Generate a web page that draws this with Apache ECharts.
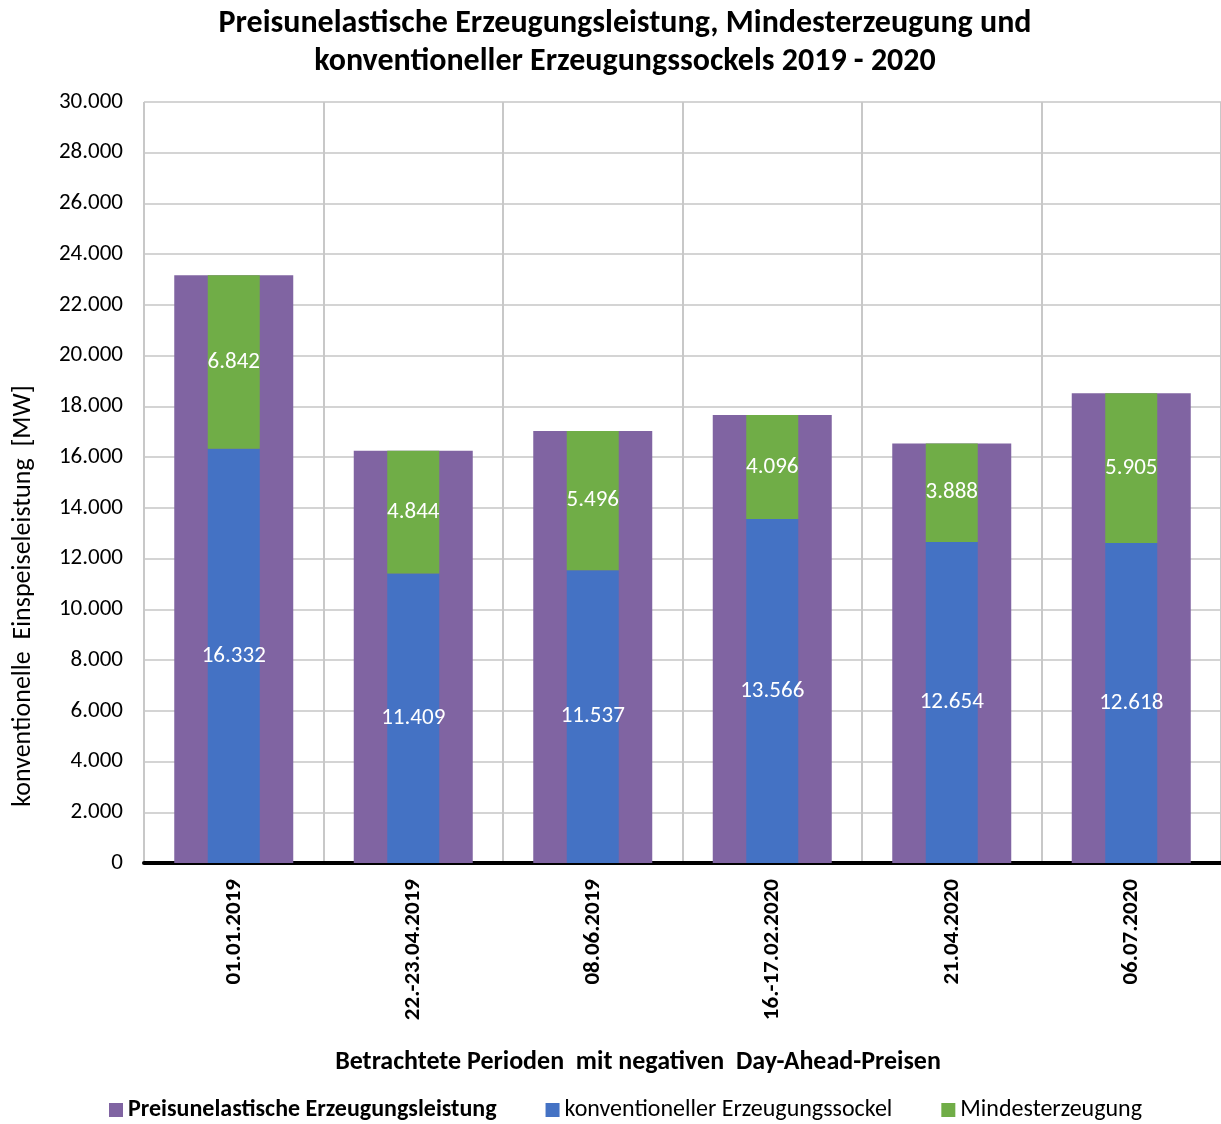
<!DOCTYPE html>
<html>
<head>
<meta charset="utf-8">
<script src="https://cdn.jsdelivr.net/npm/echarts@6/dist/echarts.min.js"></script>
<style>
  html, body { margin: 0; padding: 0; background: #fff; }
  #chart { width: 1221px; height: 1124px; }
</style>
</head>
<body>
<div id="chart"></div>
<script>
const periods = ['01.01.2019', '22.-23.04.2019', '08.06.2019', '16.-17.02.2020', '21.04.2020', '06.07.2020'];
const preisunelastisch = [23174, 16253, 17033, 17662, 16542, 18523];
const sockel = [16332, 11409, 11537, 13566, 12654, 12618];
const mindest = [6842, 4844, 5496, 4096, 3888, 5905];
const seriesNames = ['Preisunelastische Erzeugungsleistung', 'konventioneller Erzeugungssockel', 'Mindesterzeugung'];

const FONT = 'Carlito, Lato, sans-serif';
const fmt = v => String(Math.round(v)).replace(/\B(?=(\d{3})+(?!\d))/g, '.');

const chart = echarts.init(document.getElementById('chart'));
const valueLabel = {
  show: true, position: 'inside', color: '#fff',
  fontFamily: FONT, fontSize: 23,
  formatter: p => fmt(p.value)
};

chart.setOption({
  animation: false,
  backgroundColor: '#fff',
  textStyle: { fontFamily: FONT },
  graphic: [
    { type: 'text', x: 625, y: 5, style: {
        text: 'Preisunelastische Erzeugungsleistung, Mindesterzeugung und\nkonventioneller Erzeugungssockels 2019 - 2020',
        fontFamily: FONT, fontWeight: 'bold', fontSize: 32, lineHeight: 38,
        textAlign: 'center', fill: '#000' } },
    { type: 'text', x: 638, y: 1062, style: {
        text: 'Betrachtete Perioden  mit negativen  Day-Ahead-Preisen',
        fontFamily: FONT, fontWeight: 'bold', fontSize: 26,
        textAlign: 'center', textVerticalAlign: 'middle', fill: '#000' } },
    { type: 'text', x: 23, y: 596, rotation: Math.PI / 2, style: {
        text: 'konventionelle  Einspeiseleistung  [MW]',
        fontFamily: FONT, fontSize: 26,
        textAlign: 'center', textVerticalAlign: 'middle', fill: '#000' } }
  ],
  legend: {
    data: seriesNames,
    top: 1093,
    left: 104,
    itemWidth: 14, itemHeight: 14, itemGap: 49,
    icon: 'rect',
    textStyle: {
      fontFamily: FONT, fontSize: 24, color: '#000',
      rich: {
        b: { fontFamily: FONT, fontSize: 24, fontWeight: 'bold', color: '#000' },
        n: { fontFamily: FONT, fontSize: 24, color: '#000' }
      }
    },
    formatter: name => name === seriesNames[0] ? '{b|' + name + '}' : '{n|' + name + '}'
  },
  grid: { left: 144, right: 0, top: 102, bottom: 261, containLabel: false },
  xAxis: [
    {
      type: 'category', data: periods,
      axisLine: { lineStyle: { color: '#000', width: 4 } },
      axisTick: { show: false },
      splitLine: { show: true, lineStyle: { color: '#c8c8c8', width: 2 } },
      axisLabel: { rotate: 90, fontFamily: FONT, fontWeight: 'bold', fontSize: 23, color: '#000', margin: 16 }
    },
    {
      type: 'category', data: periods, show: false, position: 'bottom'
    }
  ],
  yAxis: {
    type: 'value', min: 0, max: 30000, interval: 2000,
    axisLine: { show: false },
    axisTick: { show: false },
    splitLine: { lineStyle: { color: '#d4d4d4', width: 2 } },
    axisLabel: { fontFamily: FONT, fontSize: 23, color: '#000', margin: 21, formatter: fmt }
  },
  series: [
    {
      name: seriesNames[0], type: 'bar', xAxisIndex: 0, data: preisunelastisch,
      barWidth: 119, itemStyle: { color: '#8064A2' }, z: 2
    },
    {
      name: seriesNames[1], type: 'bar', xAxisIndex: 1, stack: 'basis', data: sockel,
      barWidth: 52, itemStyle: { color: '#4472C4' }, label: valueLabel, z: 3
    },
    {
      name: seriesNames[2], type: 'bar', xAxisIndex: 1, stack: 'basis', data: mindest,
      barWidth: 52, itemStyle: { color: '#70AD47' }, label: valueLabel, z: 3
    }
  ]
});
</script>
</body>
</html>
